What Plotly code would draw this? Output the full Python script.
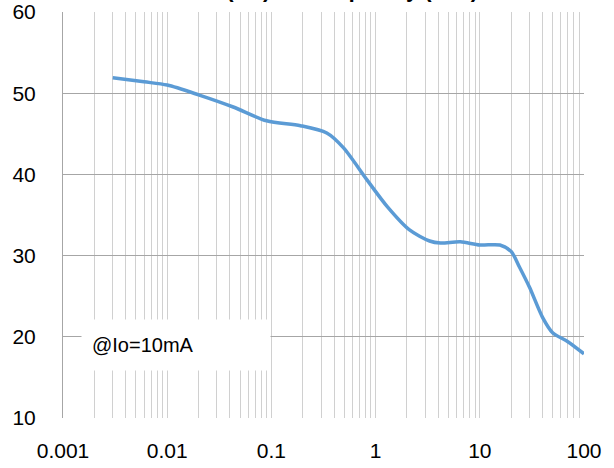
import plotly.graph_objects as go

# Data
freq_khz = [0.003, 0.006, 0.01, 0.02, 0.043, 0.09, 0.19, 0.34, 0.49, 0.83, 1.3, 2.1,
            3.3, 4.2, 6.5, 10, 15.6, 20, 24, 30, 40, 50, 70, 100]
psrr_db = [51.9, 51.4, 51.0, 49.8, 48.3, 46.6, 46.0, 45.1, 43.3, 39.3, 36.0, 33.2,
           31.8, 31.55, 31.7, 31.3, 31.3, 30.5, 28.6, 26.1, 22.4, 20.5, 19.4, 17.9]

decades = [0.001, 0.01, 0.1, 1, 10, 100]
decade_labels = ["0.001", "0.01", "0.1", "1", "10", "100"]
y_ticks = [10, 20, 30, 40, 50, 60]

title_text = "PSRR (dB) vs Frequency (kHz)"
note_text = "@Io=10mA"

# all log grid positions (1..9 x each decade), labels only at decades
xt_vals, xt_text = [], []
for d in decades[:-1]:
    for m in range(1, 10):
        v = round(d * m, 6)
        xt_vals.append(v)
        xt_text.append(decade_labels[decades.index(d)] if m == 1 else "")
xt_vals.append(decades[-1])
xt_text.append(decade_labels[-1])

FONT = "Liberation Sans"

fig = go.Figure()
fig.add_trace(go.Scatter(
    x=freq_khz, y=psrr_db, mode="lines",
    line=dict(color="#5B9BD5", width=3.5, shape="spline", smoothing=0.8),
    showlegend=False, hoverinfo="skip",
))

fig.update_layout(
    width=614, height=468,
    margin=dict(l=63, r=30, t=12, b=50, autoexpand=False),
    paper_bgcolor="white", plot_bgcolor="white",
    font=dict(family=FONT, size=21, color="black"),
    xaxis=dict(type="log", range=[-3, 2], tickmode="array",
               tickvals=xt_vals, ticktext=xt_text, automargin=False,
               ticklabeloverflow="allow",
               showgrid=True, gridcolor="#d0d0d0", gridwidth=1,
               ticks="outside", ticklen=14, tickcolor="rgba(0,0,0,0)",
               zeroline=False, showline=False),
    yaxis=dict(range=[10, 60], tickmode="array", tickvals=y_ticks, automargin=False,
               ticklabeloverflow="allow",
               showgrid=True, gridcolor="#a6a6a6", gridwidth=1,
               ticks="outside", ticklen=22, tickcolor="rgba(0,0,0,0)",
               zeroline=False, showline=True, linecolor="#a6a6a6", linewidth=1),
    annotations=[
        dict(text="<b>" + title_text + "</b>", xref="paper", yref="paper",
             x=0.49, y=1, xanchor="center", yanchor="bottom", yshift=8,
             showarrow=False, font=dict(family=FONT, size=22, color="black")),
        dict(text=note_text, xref="paper", yref="paper",
             x=0.217, y=0.18, xanchor="center", yanchor="middle",
             showarrow=False, align="left", width=168, height=30, borderpad=10,
             bgcolor="white", font=dict(family=FONT, size=20, color="black")),
    ],
)

# remove the browser's default body margin so the figure fills the window
fig.write_html("out.html", config={"displayModeBar": False},
               post_script="document.body.style.margin='0px';")
